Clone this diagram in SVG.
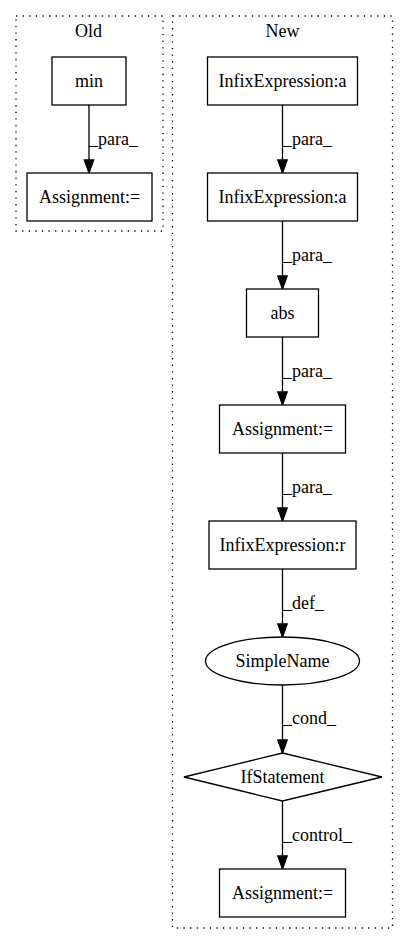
<svg xmlns="http://www.w3.org/2000/svg" width="408" height="944" viewBox="0 0 408 944">
<style>
text{font-family:"Liberation Serif","Times New Roman",serif;font-size:18px;fill:#000}
.c{text-anchor:middle}
.n{fill:#fff;stroke:#000;stroke-width:1.3}
.cl{fill:none;stroke:#000;stroke-width:1.3;stroke-dasharray:1.3,5.3}
.e{stroke:#000;stroke-width:1.3;fill:none}
.ah{fill:#000;stroke:#000;stroke-width:1.3}
</style>
<rect width="408" height="944" fill="#fff"/>
<g id="cluster_old">
<rect class="cl" x="16" y="16" width="147" height="215"/>
<text class="c" x="88.5" y="36.5">Old</text>
</g>
<g id="cluster_new">
<rect class="cl" x="172.5" y="16" width="220" height="912"/>
<text class="c" x="282.5" y="36.5">New</text>
</g>
<g id="edges">
<path class="e" d="M89,105V160"/><polygon class="ah" points="84.3,160 93.7,160 89,173"/>
<text x="89" y="145">_para_</text>
<path class="e" d="M282.5,105V160"/><polygon class="ah" points="277.8,160 287.2,160 282.5,173"/>
<text x="283" y="145">_para_</text>
<path class="e" d="M282.5,221V276"/><polygon class="ah" points="277.8,276 287.2,276 282.5,289"/>
<text x="283" y="261">_para_</text>
<path class="e" d="M282.5,337V392"/><polygon class="ah" points="277.8,392 287.2,392 282.5,405"/>
<text x="283" y="377">_para_</text>
<path class="e" d="M282.5,453V508"/><polygon class="ah" points="277.8,508 287.2,508 282.5,521"/>
<text x="283" y="493">_para_</text>
<path class="e" d="M282.5,569V624"/><polygon class="ah" points="277.8,624 287.2,624 282.5,637"/>
<text x="283" y="609">_def_</text>
<path class="e" d="M282.5,685V740"/><polygon class="ah" points="277.8,740 287.2,740 282.5,753"/>
<text x="283" y="724">_cond_</text>
<path class="e" d="M282.5,801V856"/><polygon class="ah" points="277.8,856 287.2,856 282.5,869"/>
<text x="283" y="841">_control_</text>
</g>
<g id="old_min">
<rect class="n" x="52" y="57" width="74" height="48"/>
<text class="c" x="89" y="86.5">min</text>
</g>
<g id="old_assign">
<rect class="n" x="27" y="173" width="125" height="48"/>
<text class="c" x="89.5" y="202.5">Assignment:=</text>
</g>
<g id="infix_a1">
<rect class="n" x="207.5" y="57" width="150" height="48"/>
<text class="c" x="282.5" y="86.5">InfixExpression:a</text>
</g>
<g id="infix_a2">
<rect class="n" x="207.5" y="173" width="150" height="48"/>
<text class="c" x="282.5" y="202.5">InfixExpression:a</text>
</g>
<g id="abs">
<rect class="n" x="246.5" y="289" width="72" height="48"/>
<text class="c" x="282.5" y="318.5">abs</text>
</g>
<g id="assign1">
<rect class="n" x="219.5" y="405" width="126" height="48"/>
<text class="c" x="282.5" y="434.5">Assignment:=</text>
</g>
<g id="infix_r">
<rect class="n" x="209" y="521" width="147" height="48"/>
<text class="c" x="282.5" y="550.5">InfixExpression:r</text>
</g>
<g id="simplename">
<ellipse class="n" cx="282.5" cy="661" rx="77" ry="24"/>
<text class="c" x="282.5" y="666.5">SimpleName</text>
</g>
<g id="ifstatement">
<polygon class="n" points="282.5,753 382,777 282.5,801 184,777"/>
<text class="c" x="282.5" y="782.5">IfStatement</text>
</g>
<g id="assign2">
<rect class="n" x="219.5" y="869" width="126" height="48"/>
<text class="c" x="282.5" y="898.5">Assignment:=</text>
</g>
</svg>
